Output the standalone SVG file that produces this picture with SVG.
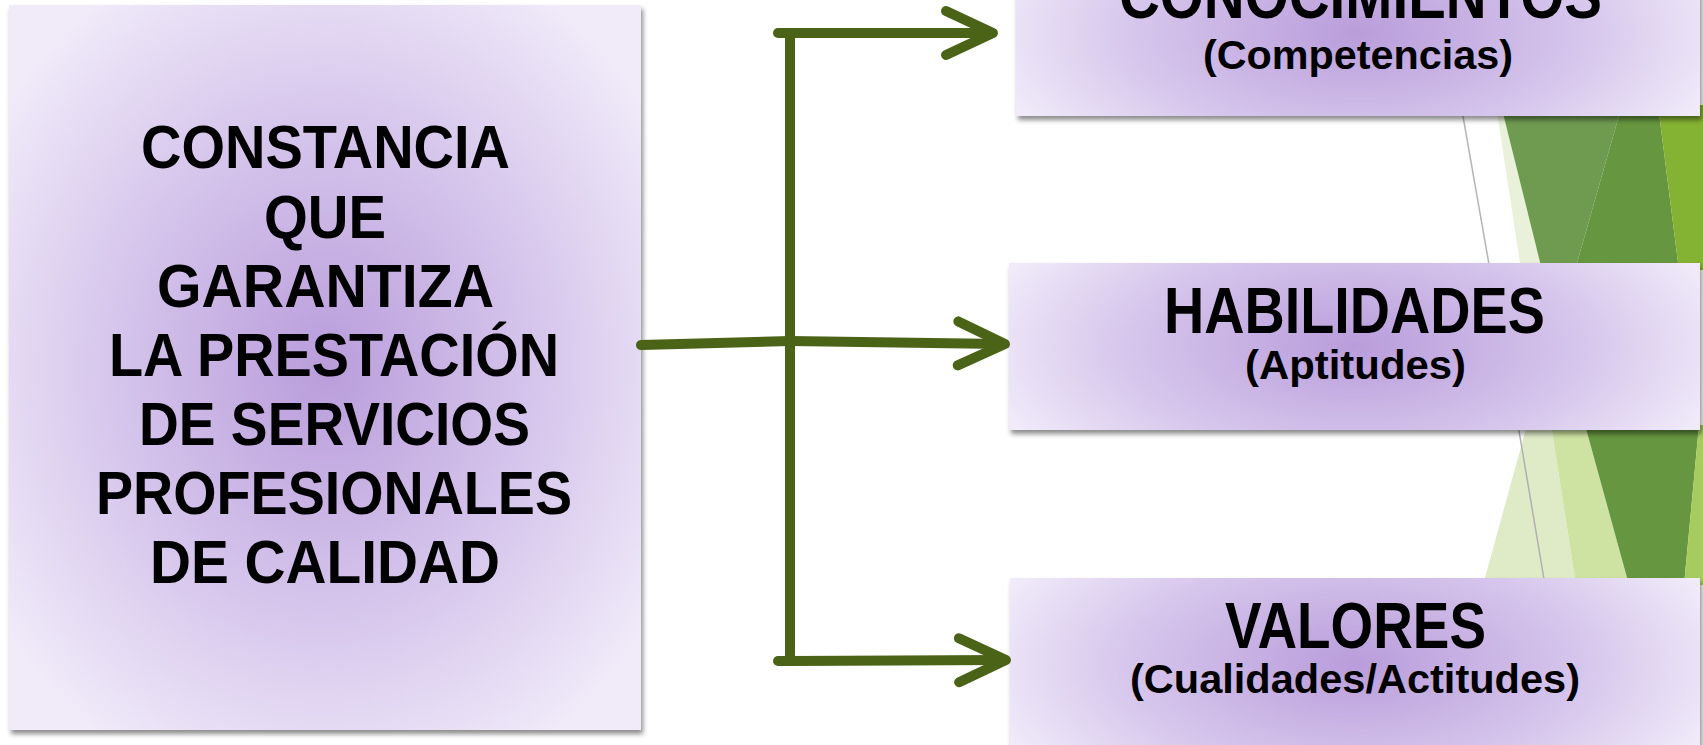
<svg xmlns="http://www.w3.org/2000/svg" width="1703" height="745" viewBox="0 0 1703 745">
  <defs>
    <radialGradient id="lav" cx="0.5" cy="0.5" r="0.62">
      <stop offset="0" stop-color="#b99ddb"/>
      <stop offset="0.55" stop-color="#d6c6ec"/>
      <stop offset="1" stop-color="#f0eaf9"/>
    </radialGradient>
    <radialGradient id="lavw" cx="0.5" cy="0.5" r="0.55" gradientTransform="translate(0.5,0.5) scale(1,1.9) translate(-0.5,-0.5)">
      <stop offset="0" stop-color="#b99ddb"/>
      <stop offset="0.6" stop-color="#d6c6ec"/>
      <stop offset="1" stop-color="#f0eaf9"/>
    </radialGradient>
    <filter id="sh" x="-5%" y="-10%" width="112%" height="125%">
      <feDropShadow dx="2" dy="4" stdDeviation="2.5" flood-color="#000" flood-opacity="0.45"/>
    </filter>
    <marker id="chev" markerUnits="userSpaceOnUse" viewBox="-60 -30 70 60" markerWidth="70" markerHeight="60" refX="-3" refY="0" orient="auto" overflow="visible">
      <path d="M-47,-22 L0,0 L-47,22" fill="none" stroke="#4b6316" stroke-width="10" stroke-linecap="round" stroke-linejoin="round"/>
    </marker>
  </defs>
  <style>
    .box { fill: url(#lav); filter: url(#sh); }
    .wbox { fill: url(#lavw); filter: url(#sh); }
    .big { font-family: "Liberation Sans", Arial, sans-serif; font-weight: bold; font-size: 61px; fill: #000; }
    .ttl { font-family: "Liberation Sans Narrow", "Liberation Sans", Arial, sans-serif; font-weight: bold; font-size: 65px; fill: #000; }
    .sub { font-family: "Liberation Sans Narrow", "Liberation Sans", Arial, sans-serif; font-weight: bold; font-size: 40px; fill: #000; }
    .conn { fill: none; stroke: #4b6316; stroke-width: 10; stroke-linecap: round; stroke-linejoin: round; }
    .arr { marker-end: url(#chev); stroke-linecap: butt; }
  </style>

  <rect width="1703" height="745" fill="#ffffff"/>

  <g id="decor">
    <polygon points="1496,105 1502,105 1543,270 1521,270" fill="#e9f1da"/>
    <polygon points="1501,105 1622,105 1575,270 1542,270" fill="#6f9b51"/>
    <polygon points="1622,105 1658,105 1679,270 1575,270" fill="#66963f"/>
    <polygon points="1658,105 1703,105 1703,270 1679,270" fill="#84b232"/>
    <line x1="1461" y1="105" x2="1490" y2="270" stroke="#b5b5b5" stroke-width="1.5"/>
    <polygon points="1527,425 1551,425 1576,585 1483,585" fill="#dfeac7"/>
    <polygon points="1551,425 1585,425 1629,585 1576,585" fill="#cee3a2"/>
    <polygon points="1585,425 1699,425 1684,585 1629,585" fill="#66963f"/>
    <polygon points="1699,425 1703,425 1703,585 1684,585" fill="#a6cb5f"/>
    <line x1="1518" y1="425" x2="1545" y2="585" stroke="#b0b0b0" stroke-width="1.5"/>
  </g>

  <g id="node-constancia">
    <rect class="box" x="9" y="5" width="632" height="725"/>
    <text class="big" x="141" y="168" textLength="369" lengthAdjust="spacingAndGlyphs">CONSTANCIA</text>
    <text class="big" x="264" y="238" textLength="122" lengthAdjust="spacingAndGlyphs">QUE</text>
    <text class="big" x="157" y="307" textLength="337" lengthAdjust="spacingAndGlyphs">GARANTIZA</text>
    <text class="big" x="109" y="376" textLength="450" lengthAdjust="spacingAndGlyphs">LA PRESTACIÓN</text>
    <text class="big" x="139" y="445" textLength="391" lengthAdjust="spacingAndGlyphs">DE SERVICIOS</text>
    <text class="big" x="96" y="514" textLength="476" lengthAdjust="spacingAndGlyphs">PROFESIONALES</text>
    <text class="big" x="150" y="583" textLength="350" lengthAdjust="spacingAndGlyphs">DE CALIDAD</text>
  </g>

  <g id="node-conocimientos">
    <rect class="wbox" x="1016" y="-51" width="684" height="167"/>
    <text class="ttl" x="1119" y="18" textLength="483" lengthAdjust="spacingAndGlyphs">CONOCIMIENTOS</text>
    <text class="sub" x="1203" y="69" textLength="310" lengthAdjust="spacingAndGlyphs">(Competencias)</text>
  </g>

  <g id="node-habilidades">
    <rect class="wbox" x="1009" y="263" width="691" height="167"/>
    <text class="ttl" x="1164" y="333" textLength="381" lengthAdjust="spacingAndGlyphs">HABILIDADES</text>
    <text class="sub" x="1245" y="379" textLength="221" lengthAdjust="spacingAndGlyphs">(Aptitudes)</text>
  </g>

  <g id="node-valores">
    <rect class="wbox" x="1010" y="578" width="690" height="172"/>
    <text class="ttl" x="1225" y="648" textLength="261" lengthAdjust="spacingAndGlyphs">VALORES</text>
    <text class="sub" x="1130" y="693" textLength="450" lengthAdjust="spacingAndGlyphs">(Cualidades/Actitudes)</text>
  </g>

  <g id="connectors">
    <path class="conn" d="M790,33 L790,661"/>
    <path class="conn" d="M641,345 L790,341"/>
    <path class="conn arr" d="M790,341 L1002,344"/>
    <path class="conn" d="M778,33 L790,33"/>
    <path class="conn arr" d="M790,33 L990,33"/>
    <path class="conn" d="M778,661 L790,661"/>
    <path class="conn arr" d="M790,661 L1003,660"/>
  </g>
</svg>
